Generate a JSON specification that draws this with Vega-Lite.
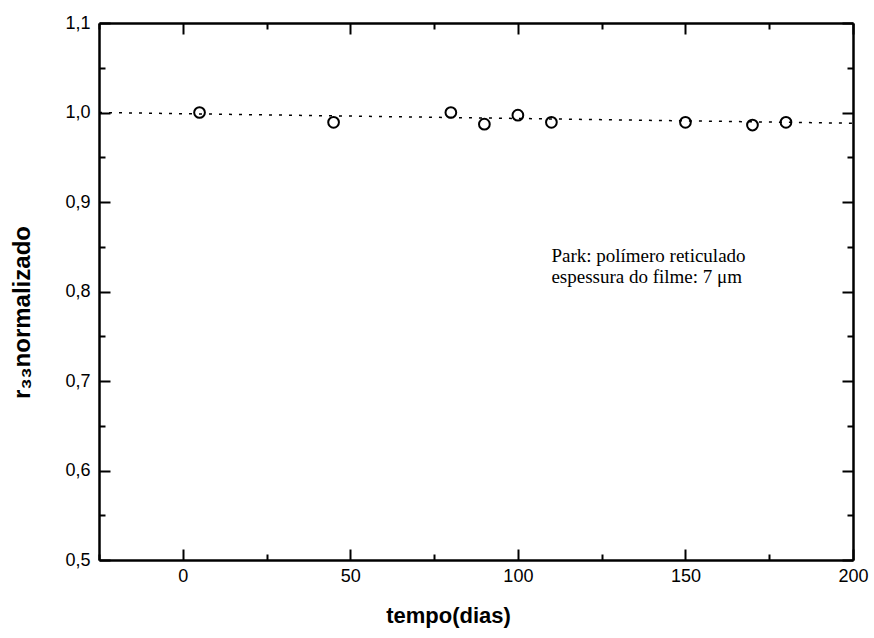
{
  "$schema": "https://vega.github.io/schema/vega-lite/v6.json",
  "width": 754,
  "height": 537,
  "autosize": "none",
  "padding": {"left": 99, "top": 23, "right": 21, "bottom": 78},
  "background": "white",
  "config": {
    "view": {"stroke": null},
    "axis": {
      "domainColor": "black",
      "tickColor": "black",
      "labelColor": "black",
      "titleColor": "black",
      "grid": false,
      "labelFont": "Liberation Sans",
      "titleFont": "Liberation Sans"
    }
  },
  "datasets": {
    "medidas": [
      {"tempo": 5, "r33": 1.0},
      {"tempo": 45, "r33": 0.989},
      {"tempo": 80, "r33": 1.0},
      {"tempo": 90, "r33": 0.987},
      {"tempo": 100, "r33": 0.997},
      {"tempo": 110, "r33": 0.989},
      {"tempo": 150, "r33": 0.989},
      {"tempo": 170, "r33": 0.986},
      {"tempo": 180, "r33": 0.989}
    ],
    "ajuste": [
      {"tempo": -25, "r33": 1.0},
      {"tempo": 200, "r33": 0.988}
    ],
    "legenda": [
      {"tempo": 110, "r33": 0.833, "texto": "Park: polímero reticulado"},
      {"tempo": 110, "r33": 0.81, "texto": "espessura do filme: 7 μm"}
    ]
  },
  "resolve": {"axis": {"x": "independent", "y": "independent"}},
  "layer": [
    {
      "data": {"name": "medidas"},
      "mark": {"type": "point", "shape": "circle", "filled": false, "color": "black", "size": 115, "strokeWidth": 2, "opacity": 1},
      "encoding": {
        "x": {
          "field": "tempo", "type": "quantitative",
          "scale": {"domain": [-25, 200], "nice": false, "zero": false},
          "axis": {
            "orient": "bottom", "values": [0, 50, 100, 150, 200],
            "ticks": false, "domain": true, "domainWidth": 2.5,
            "labelFontSize": 18, "labelPadding": 7, "labelFlush": false,
            "title": "tempo(dias)", "titleFontSize": 22, "titleFontWeight": "bold",
            "titleX": 349, "titleY": 55, "titleAlign": "center", "titleBaseline": "middle"
          }
        },
        "y": {
          "field": "r33", "type": "quantitative",
          "scale": {"domain": [0.5, 1.1], "nice": false, "zero": false},
          "axis": {
            "orient": "left", "values": [0.5, 0.6, 0.7, 0.8, 0.9, 1.0, 1.1],
            "labelExpr": "replace(format(datum.value, '.1f'), '.', ',')",
            "ticks": false, "domain": true, "domainWidth": 2.5,
            "labelFontSize": 18, "labelPadding": 9, "labelFlush": false,
            "title": "r₃₃normalizado", "titleFontSize": 24, "titleFontWeight": "bold",
            "titleX": -77, "titleY": 289, "titleAlign": "center", "titleBaseline": "middle"
          }
        }
      }
    },
    {
      "data": {"name": "ajuste"},
      "mark": {"type": "line", "color": "black", "strokeWidth": 1.5, "strokeDash": [3, 7]},
      "encoding": {
        "x": {
          "field": "tempo", "type": "quantitative",
          "axis": {"orient": "bottom", "values": [0, 50, 100, 150, 200], "labels": false, "domain": false, "tickSize": -11, "tickWidth": 2, "title": null}
        },
        "y": {
          "field": "r33", "type": "quantitative",
          "axis": {"orient": "left", "values": [0.5, 0.6, 0.7, 0.8, 0.9, 1.0, 1.1], "labels": false, "domain": false, "tickSize": -11, "tickWidth": 2, "title": null}
        }
      }
    },
    {
      "data": {"name": "ajuste"},
      "mark": {"type": "point", "opacity": 0},
      "encoding": {
        "x": {
          "field": "tempo", "type": "quantitative",
          "axis": {"orient": "bottom", "values": [-25, 25, 75, 125, 175], "labels": false, "domain": false, "tickSize": -6, "tickWidth": 2, "title": null}
        },
        "y": {
          "field": "r33", "type": "quantitative",
          "axis": {"orient": "left", "values": [0.55, 0.65, 0.75, 0.85, 0.95, 1.05], "labels": false, "domain": false, "tickSize": -6, "tickWidth": 2, "title": null}
        }
      }
    },
    {
      "data": {"name": "ajuste"},
      "mark": {"type": "point", "opacity": 0},
      "encoding": {
        "x": {
          "field": "tempo", "type": "quantitative",
          "axis": {"orient": "top", "values": [0, 50, 100, 150, 200], "labels": false, "domain": true, "domainWidth": 2.5, "tickSize": -11, "tickWidth": 2, "title": null}
        },
        "y": {
          "field": "r33", "type": "quantitative",
          "axis": {"orient": "right", "values": [0.5, 0.6, 0.7, 0.8, 0.9, 1.0, 1.1], "labels": false, "domain": true, "domainWidth": 2.5, "tickSize": -11, "tickWidth": 2, "title": null}
        }
      }
    },
    {
      "data": {"name": "ajuste"},
      "mark": {"type": "point", "opacity": 0},
      "encoding": {
        "x": {
          "field": "tempo", "type": "quantitative",
          "axis": {"orient": "top", "values": [-25, 25, 75, 125, 175], "labels": false, "domain": false, "tickSize": -6, "tickWidth": 2, "title": null}
        },
        "y": {
          "field": "r33", "type": "quantitative",
          "axis": {"orient": "right", "values": [0.55, 0.65, 0.75, 0.85, 0.95, 1.05], "labels": false, "domain": false, "tickSize": -6, "tickWidth": 2, "title": null}
        }
      }
    },
    {
      "data": {"name": "legenda"},
      "mark": {"type": "text", "align": "left", "baseline": "alphabetic", "font": "Liberation Serif", "fontSize": 19, "color": "black"},
      "encoding": {
        "x": {"field": "tempo", "type": "quantitative", "axis": null},
        "y": {"field": "r33", "type": "quantitative", "axis": null},
        "text": {"field": "texto"}
      }
    }
  ]
}
